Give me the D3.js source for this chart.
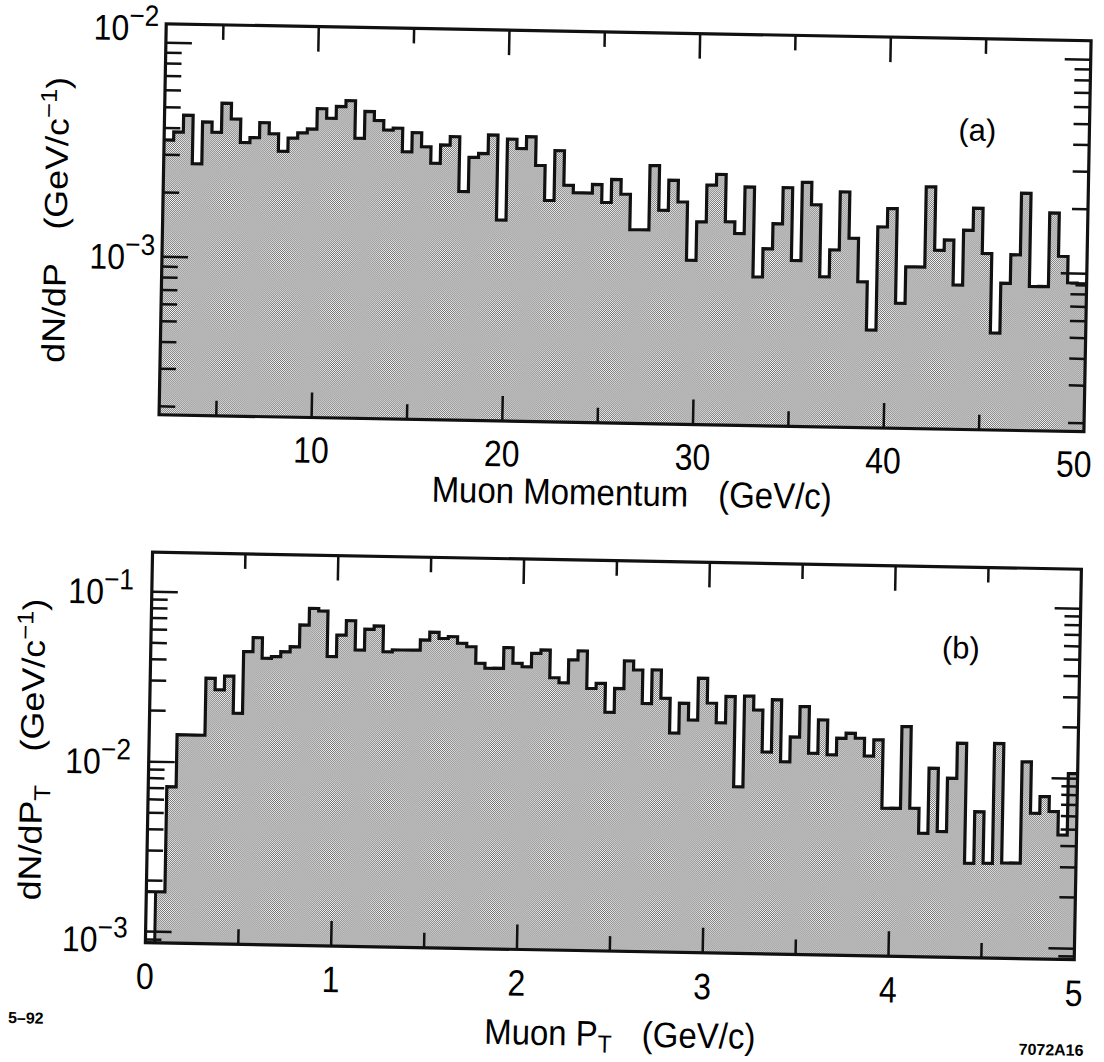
<!DOCTYPE html>
<html>
<head>
<meta charset="utf-8">
<script src="https://cdnjs.cloudflare.com/ajax/libs/d3/7.8.5/d3.min.js"></script>
<style>
  body { margin: 0; background: #fff; }
  text { font-family: "Liberation Sans", Arial, Helvetica, sans-serif; fill: #000; }
</style>
</head>
<body>
<div id="chart"></div>
<script>
// (a) muon momentum, 0.5 GeV/c bins starting at 2 GeV/c
var momentumStart = 2, momentumBinWidth = 0.5;
var momentumCounts = [
  3.52e-3, 3.84e-3, 4.61e-3, 2.74e-3, 4.30e-3, 3.86e-3, 5.28e-3, 4.47e-3, 3.48e-3, 3.67e-3,
  4.32e-3, 3.84e-3, 3.19e-3, 3.68e-3, 3.90e-3, 4.07e-3, 5.08e-3, 4.59e-3, 5.22e-3, 5.57e-3,
  3.72e-3, 4.97e-3, 4.52e-3, 4.09e-3, 4.18e-3, 3.25e-3, 4.00e-3, 3.44e-3, 2.89e-3, 3.52e-3,
  3.86e-3, 2.14e-3, 3.10e-3, 3.24e-3, 3.96e-3, 1.59e-3, 3.80e-3, 3.44e-3, 3.91e-3, 2.88e-3,
  1.98e-3, 3.39e-3, 2.34e-3, 2.16e-3, 2.16e-3, 2.37e-3, 1.96e-3, 2.51e-3, 2.15e-3, 1.47e-3,
  1.47e-3, 2.94e-3, 1.82e-3, 2.52e-3, 2.00e-3, 1.07e-3, 1.62e-3, 2.41e-3, 2.71e-3, 1.63e-3,
  1.44e-3, 2.38e-3, 9.06e-4, 1.23e-3, 1.61e-3, 2.38e-3, 1.09e-3, 2.53e-3, 1.99e-3, 9.20e-4,
  1.23e-3, 2.30e-3, 1.40e-3, 8.77e-4, 5.23e-4, 1.59e-3, 1.94e-3, 7.01e-4, 1.04e-3, 1.04e-3,
  2.47e-3, 1.25e-3, 1.40e-3, 8.63e-4, 1.56e-3, 1.98e-3, 1.22e-3, 5.19e-4, 8.89e-4, 1.21e-3,
  2.35e-3, 8.62e-4, 8.64e-4, 1.91e-3, 1.20e-3, 9.04e-4, 8.85e-4
];

// (b) muon transverse momentum, 0.05 GeV/c bins starting at 0
var ptStart = 0, ptBinWidth = 0.05;
var ptCounts = [
  1.72e-3, 1.72e-3, 7.16e-3, 1.45e-2, 1.45e-2, 1.45e-2, 3.14e-2, 2.69e-2, 3.25e-2, 1.97e-2,
  4.55e-2, 5.51e-2, 4.18e-2, 4.28e-2, 4.58e-2, 4.92e-2, 6.62e-2, 8.30e-2, 8.03e-2, 4.34e-2,
  5.82e-2, 7.10e-2, 4.78e-2, 6.34e-2, 6.64e-2, 4.70e-2, 4.83e-2, 4.83e-2, 4.84e-2, 5.56e-2,
  6.19e-2, 5.71e-2, 5.86e-2, 5.37e-2, 5.14e-2, 4.11e-2, 3.85e-2, 3.86e-2, 5.12e-2, 4.15e-2,
  3.97e-2, 4.77e-2, 5.00e-2, 3.45e-2, 3.23e-2, 4.41e-2, 4.99e-2, 3.01e-2, 3.23e-2, 2.19e-2,
  3.03e-2, 4.41e-2, 3.91e-2, 2.49e-2, 3.93e-2, 2.68e-2, 1.68e-2, 2.52e-2, 2.01e-2, 3.55e-2,
  2.54e-2, 1.95e-2, 2.79e-2, 8.24e-3, 2.82e-2, 2.34e-2, 1.33e-2, 2.70e-2, 1.17e-2, 1.64e-2,
  2.48e-2, 1.32e-2, 2.08e-2, 1.30e-2, 1.63e-2, 1.75e-2, 1.64e-2, 1.29e-2, 1.61e-2, 6.38e-3,
  6.40e-3, 1.94e-2, 6.43e-3, 4.59e-3, 1.11e-2, 4.72e-3, 9.75e-3, 1.57e-2, 3.10e-3, 6.24e-3,
  3.11e-3, 1.58e-2, 3.13e-3, 3.14e-3, 1.24e-2, 6.19e-3, 7.78e-3, 6.37e-3, 4.64e-3, 1.07e-2
];

var momentumMajor = [10, 20, 30, 40];
var momentumMinor = [5, 15, 25, 35, 45];
var momentumLabels = [10, 20, 30, 40, 50];
var ptMajor = [1, 2, 3, 4];
var ptMinor = [0.5, 1.5, 2.5, 3.5, 4.5];
var ptLabels = [0, 1, 2, 3, 4, 5];

var W = 1104, H = 1062;
var svg = d3.select('#chart').append('svg').attr('width', W).attr('height', H);

var defs = svg.append('defs');
var pat = defs.append('pattern').attr('id', 'dots').attr('patternUnits', 'userSpaceOnUse')
  .attr('width', 2).attr('height', 2);
pat.append('rect').attr('width', 2).attr('height', 2).attr('fill', '#fff');
pat.append('rect').attr('width', 1).attr('height', 1).attr('fill', '#6a6a6a');
pat.append('rect').attr('x', 1).attr('y', 1).attr('width', 1).attr('height', 1).attr('fill', '#6a6a6a');

// the scanned figure sits about one degree clockwise
var root = svg.append('g').attr('transform', 'rotate(1.05,552,531)');

function sci(g, x, y, exp, size) {
  var t = g.append('text')
    .attr('transform', 'translate(' + x + ',' + y + ') scale(1,1.12)')
    .attr('text-anchor', 'end')
    .attr('y', size * 0.36)
    .style('font-size', size + 'px');
  t.append('tspan').text('10');
  t.append('tspan').attr('dy', '-0.5em').style('font-size', '0.82em').text('\u2212' + Math.abs(exp));
}

function drawPanel(cfg) {
  var g = root.append('g');
  var x = cfg.x, y = cfg.y;
  var left = x.range()[0], right = x.range()[1];
  var top = cfg.top, bottom = cfg.bottom;

  var pts = cfg.counts.map(function (v, i) { return [cfg.start + i * cfg.width, v]; });
  pts.push([cfg.start + cfg.counts.length * cfg.width, cfg.counts[cfg.counts.length - 1]]);

  var area = d3.area().curve(d3.curveStepAfter)
    .x(function (d) { return x(d[0]); })
    .y0(bottom)
    .y1(function (d) { return y(d[1]); });
  var line = d3.line().curve(d3.curveStepAfter)
    .x(function (d) { return x(d[0]); })
    .y(function (d) { return y(d[1]); });

  var fillPts = pts.slice(cfg.hollow);
  g.append('path').attr('d', area(fillPts)).attr('fill', 'url(#dots)');
  g.append('path').attr('d', line(pts)).attr('fill', 'none')
    .attr('stroke', '#111').attr('stroke-width', 3.2).attr('stroke-linejoin', 'miter');
  if (cfg.hollow > 0) {
    var hx = x(fillPts[0][0]);
    g.append('line').attr('x1', hx).attr('x2', hx).attr('y1', bottom).attr('y2', y(fillPts[0][1]))
      .attr('stroke', '#111').attr('stroke-width', 3);
  }

  // log ticks on both vertical sides
  var d0 = Math.floor(Math.log10(y.invert(bottom))), d1 = Math.ceil(Math.log10(y.invert(top)));
  var yt = [];
  for (var d = d0; d <= d1; d++) {
    for (var k = 1; k <= 9; k++) {
      var v = k * Math.pow(10, d), py = y(v);
      if (py > top + 3 && py < bottom - 3) yt.push({ py: py, len: k == 1 ? 26 : 16 });
    }
  }
  yt.forEach(function (t) {
    g.append('line').attr('x1', left).attr('x2', left + t.len).attr('y1', t.py).attr('y2', t.py)
      .attr('stroke', '#111').attr('stroke-width', 2.5);
    g.append('line').attr('x1', right).attr('x2', right - t.len).attr('y1', t.py).attr('y2', t.py)
      .attr('stroke', '#111').attr('stroke-width', 2.5);
  });

  var xt = cfg.major.map(function (v) { return { v: v, len: 25 }; })
    .concat(cfg.minor.map(function (v) { return { v: v, len: 15 }; }));
  xt.forEach(function (t) {
    var px = x(t.v);
    g.append('line').attr('x1', px).attr('x2', px).attr('y1', top).attr('y2', top + t.len)
      .attr('stroke', '#111').attr('stroke-width', 2.5);
    g.append('line').attr('x1', px).attr('x2', px).attr('y1', bottom).attr('y2', bottom - t.len)
      .attr('stroke', '#111').attr('stroke-width', 2.5);
  });

  g.append('rect').attr('x', left).attr('y', top).attr('width', right - left).attr('height', bottom - top)
    .attr('fill', 'none').attr('stroke', '#111').attr('stroke-width', 3.2);

  cfg.labels.forEach(function (v) {
    g.append('text')
      .attr('transform', 'translate(' + x(v) + ',' + cfg.labelY + ') scale(1,1.15)')
      .attr('text-anchor', 'middle').attr('y', 32 * 0.36)
      .style('font-size', '32px').text(v);
  });

  cfg.yLabels.forEach(function (l) {
    var py = l.at != null ? l.at : y(Math.pow(10, l.exp));
    sci(g, cfg.yLabelX, py, l.exp, 32);
  });

  g.append('text').attr('x', cfg.tag[0]).attr('y', cfg.tag[1] + 11)
    .attr('text-anchor', 'middle').style('font-size', '31px').text(cfg.tagText);
  return g;
}

var gA = drawPanel({
  x: d3.scaleLinear().domain([2, 50.5]).range([157, 1082]),
  y: d3.scaleLog().domain([1e-3, 1e-2]).range([264, 50]),
  top: 31, bottom: 422,
  start: momentumStart, width: momentumBinWidth, counts: momentumCounts, hollow: 0,
  major: momentumMajor, minor: momentumMinor, labels: momentumLabels, labelY: 454,
  yLabels: [{ exp: -2, at: 35 }, { exp: -3 }], yLabelX: 150,
  tag: [970, 122], tagText: '(a)'
});

var gB = drawPanel({
  x: d3.scaleLinear().domain([0, 5]).range([153, 1082]),
  y: d3.scaleLog().domain([1e-3, 1e-1]).range([939, 599]),
  top: 559.5, bottom: 950,
  start: ptStart, width: ptBinWidth, counts: ptCounts, hollow: 1,
  major: ptMajor, minor: ptMinor, labels: ptLabels, labelY: 983,
  yLabels: [{ exp: -1 }, { exp: -2 }, { exp: -3, at: 947 }], yLabelX: 135,
  tag: [963, 640], tagText: '(b)'
});

// axis titles
var tA = root.append('text')
  .attr('transform', 'translate(631,504) scale(1,1.1)')
  .attr('text-anchor', 'middle').style('font-size', '33px');
tA.append('tspan').text('Muon Momentum');
tA.append('tspan').attr('dx', 30).text('(GeV/c)');

var tB = root.append('text')
  .attr('transform', 'translate(629,1045) scale(1,1.08)')
  .attr('text-anchor', 'middle').style('font-size', '33px');
tB.append('tspan').text('Muon P');
tB.append('tspan').attr('dy', 6).style('font-size', '23px').text('T');
tB.append('tspan').attr('dy', -6).attr('dx', 30).text('(GeV/c)');

var yA = root.append('text')
  .attr('transform', 'translate(61,229) rotate(-90) scale(1.12,1)')
  .attr('text-anchor', 'middle').style('font-size', '32px');
yA.append('tspan').text('dN/dP');
yA.append('tspan').attr('dx', 30).text('(GeV/c');
yA.append('tspan').attr('dy', -12).style('font-size', '23px').text('\u22121');
yA.append('tspan').attr('dy', 12).text(')');

var yB = root.append('text')
  .attr('transform', 'translate(47,759) rotate(-90) scale(1.12,1)')
  .attr('text-anchor', 'middle').style('font-size', '32px');
yB.append('tspan').text('dN/dP');
yB.append('tspan').attr('dy', 8).style('font-size', '23px').text('T');
yB.append('tspan').attr('dy', -8).attr('dx', 30).text('(GeV/c');
yB.append('tspan').attr('dy', -12).style('font-size', '23px').text('\u22121');
yB.append('tspan').attr('dy', 12).text(')');

root.append('text').attr('x', 17).attr('y', 1033).style('font-size', '16px')
  .style('font-weight', 'bold').text('5\u201392');
root.append('text').attr('x', 1028).attr('y', 1046).style('font-size', '16px')
  .style('font-weight', 'bold').text('7072A16');
</script>
</body>
</html>
